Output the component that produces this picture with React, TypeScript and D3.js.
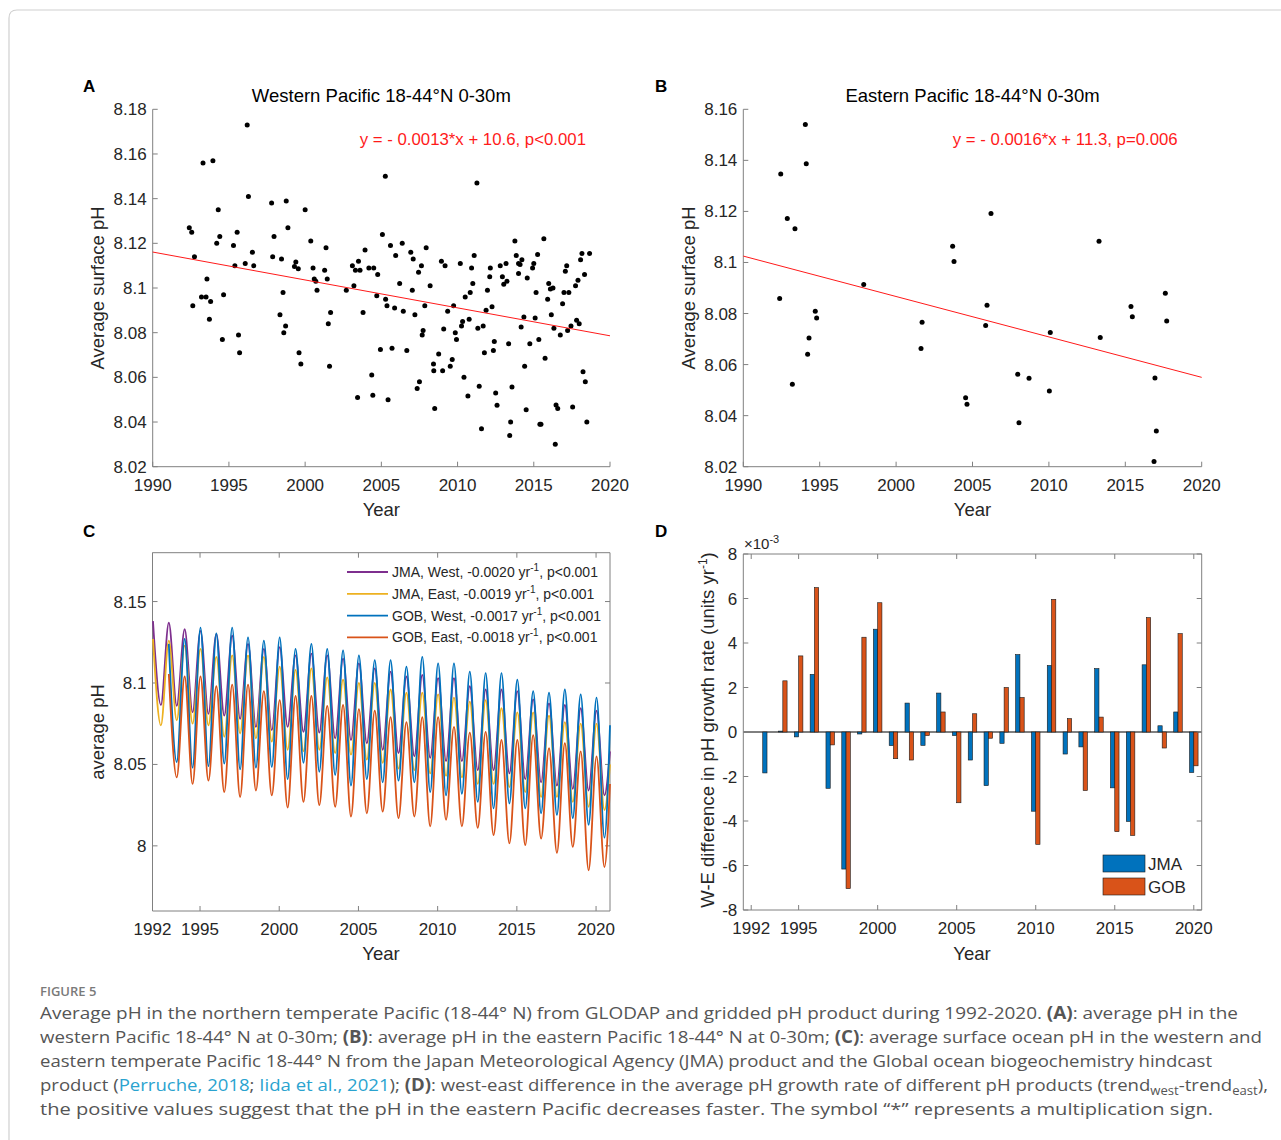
import React from 'react';
import * as d3 from 'd3';

const W = 1281;
const H = 1140;
const FONT = '"Liberation Sans", Arial, Helvetica, sans-serif';
const CAPTION_FONT = '"Open Sans", "Noto Sans", sans-serif';
const TEXT = '#262626';
const AXIS = '#808080';

// ---- Panel A: western Pacific GLODAP points (year, pH) ----
const westPoints: [number, number][] = [
  [1996.2, 8.173], [1993.3, 8.156], [1993.95, 8.157], [1996.28, 8.141], [1997.8, 8.138],
  [1998.76, 8.139], [1994.3, 8.135], [2000.0, 8.135], [1992.4, 8.127], [1992.56, 8.125],
  [1995.54, 8.125], [1998.87, 8.127], [1994.4, 8.123], [1994.2, 8.12], [1995.3, 8.119],
  [1997.96, 8.123], [2000.37, 8.121], [2001.37, 8.118], [1992.74, 8.114], [1996.54, 8.116],
  [1996.07, 8.111], [1995.39, 8.11], [1996.63, 8.11], [1997.87, 8.114], [1998.45, 8.113],
  [1999.39, 8.1116], [1999.3, 8.1096], [1999.55, 8.1086], [2000.52, 8.109], [2000.6, 8.104],
  [2000.7, 8.103], [2001.28, 8.108], [2001.45, 8.104], [2000.78, 8.099], [2002.7, 8.099],
  [2003.1, 8.11], [2003.3, 8.108], [2003.5, 8.112], [2003.6, 8.108], [2003.93, 8.117],
  [2004.18, 8.109], [2004.5, 8.109], [2004.76, 8.106], [2003.2, 8.101], [2004.7, 8.0965],
  [2005.07, 8.124], [1993.56, 8.104], [1993.2, 8.096], [1993.5, 8.096], [1993.8, 8.094],
  [1992.63, 8.092], [1994.65, 8.097], [1993.72, 8.086], [1998.55, 8.098], [1998.35, 8.088],
  [1998.72, 8.083], [1998.6, 8.08], [2001.67, 8.089], [2001.52, 8.084], [2003.8, 8.089],
  [1994.57, 8.077], [1995.63, 8.079], [1995.7, 8.071], [1999.6, 8.071], [1999.72, 8.066],
  [2001.6, 8.065], [2004.94, 8.0725], [2004.37, 8.061], [2003.44, 8.051], [2004.44, 8.052],
  [2005.26, 8.15], [2011.27, 8.147], [2005.6, 8.119], [2006.37, 8.12], [2005.94, 8.1145],
  [2006.93, 8.116], [2007.09, 8.113], [2007.94, 8.118], [2007.63, 8.11], [2007.44, 8.107],
  [2006.2, 8.102], [2007.03, 8.099], [2008.2, 8.101], [2005.28, 8.095], [2005.37, 8.092],
  [2005.87, 8.091], [2006.44, 8.0896], [2007.2, 8.088], [2007.85, 8.092], [2007.74, 8.081],
  [2007.68, 8.079], [2008.94, 8.112], [2009.18, 8.11], [2010.18, 8.111], [2011.09, 8.1145],
  [2010.92, 8.109], [2011.0, 8.102], [2010.83, 8.098], [2010.5, 8.096], [2009.74, 8.092],
  [2009.35, 8.0896], [2009.09, 8.0816], [2009.85, 8.08], [2009.93, 8.077], [2010.33, 8.085],
  [2010.26, 8.083], [2010.76, 8.086], [2011.33, 8.082], [2011.68, 8.083], [2011.87, 8.09],
  [2012.26, 8.0916], [2011.96, 8.099], [2012.11, 8.105], [2012.15, 8.109], [2012.8, 8.11],
  [2012.94, 8.105], [2013.03, 8.1017], [2013.24, 8.103], [2013.18, 8.111], [2013.76, 8.121],
  [2013.85, 8.1145], [2014.0, 8.111], [2014.1, 8.1105], [2014.22, 8.1126], [2014.0, 8.1065],
  [2014.57, 8.1045], [2014.92, 8.109], [2015.0, 8.111], [2015.25, 8.115], [2015.66, 8.122],
  [2015.15, 8.098], [2015.91, 8.095], [2015.98, 8.102], [2016.09, 8.0996], [2016.26, 8.1],
  [2016.15, 8.088], [2016.32, 8.082], [2016.74, 8.079], [2016.89, 8.093], [2016.98, 8.098],
  [2017.3, 8.098], [2017.07, 8.1075], [2017.16, 8.11], [2017.74, 8.101], [2017.9, 8.1035],
  [2018.07, 8.1126], [2018.16, 8.1154], [2018.66, 8.1154], [2018.33, 8.106], [2017.22, 8.081],
  [2017.44, 8.083], [2017.81, 8.0856], [2017.98, 8.084], [2013.35, 8.075], [2014.17, 8.0825],
  [2014.35, 8.087], [2015.09, 8.0866], [2014.74, 8.075], [2015.33, 8.077], [2015.74, 8.0685],
  [2014.4, 8.065], [2012.41, 8.076], [2012.35, 8.072], [2011.76, 8.071], [2011.42, 8.056],
  [2010.68, 8.0516], [2010.42, 8.06], [2011.57, 8.037], [2012.5, 8.053], [2012.59, 8.0475],
  [2013.57, 8.0557], [2013.48, 8.04], [2013.42, 8.034], [2014.5, 8.0455], [2015.4, 8.039],
  [2015.47, 8.039], [2016.41, 8.03], [2016.46, 8.0476], [2016.57, 8.046], [2017.55, 8.0467],
  [2018.23, 8.0625], [2018.38, 8.058], [2018.48, 8.04], [2008.5, 8.046], [2008.44, 8.063],
  [2008.42, 8.066], [2008.76, 8.0705], [2009.02, 8.063], [2009.52, 8.065], [2009.65, 8.068],
  [2005.7, 8.073], [2006.67, 8.072], [2005.44, 8.05], [2007.35, 8.055], [2007.5, 8.058],
];
const westFit: [number, number][] = [[1990, 8.1161], [2020, 8.0786]];

// ---- Panel B: eastern Pacific GLODAP points ----
const eastPoints: [number, number][] = [
  [1994.06, 8.154], [1994.12, 8.1387], [1992.45, 8.1347], [1992.88, 8.1172], [1993.38, 8.1132],
  [1992.38, 8.0859], [1994.71, 8.0809], [1994.8, 8.0782], [1994.3, 8.0704], [1994.21, 8.064],
  [1993.21, 8.0523], [1997.88, 8.0914], [2003.7, 8.1064], [2003.79, 8.1004], [2001.7, 8.0766],
  [2001.63, 8.0663], [2006.21, 8.1192], [2005.95, 8.0832], [2005.86, 8.0753], [2004.55, 8.047],
  [2004.64, 8.0445], [2007.96, 8.0562], [2008.7, 8.0546], [2008.04, 8.0372], [2010.09, 8.0726],
  [2010.03, 8.0497], [2013.28, 8.1083], [2013.36, 8.0706], [2015.37, 8.0828], [2015.46, 8.0787],
  [2017.62, 8.0879], [2017.71, 8.0771], [2016.94, 8.0547], [2017.03, 8.034], [2016.88, 8.022],
];
const eastFit: [number, number][] = [[1990, 8.1025], [2020, 8.055]];

// ---- Panel C: seasonal maxima (Jan) and minima (Jul) of gridded products ----
const cycleYears = [
  1992, 1993, 1994, 1995, 1996, 1997, 1998, 1999, 2000, 2001, 2002, 2003, 2004, 2005, 2006,
  2007, 2008, 2009, 2010, 2011, 2012, 2013, 2014, 2015, 2016, 2017, 2018, 2019, 2020,
];
const jmaWestPeak = [
  8.138, 8.137, 8.133, 8.132, 8.13, 8.129, 8.124, 8.121, 8.122, 8.117, 8.118, 8.117, 8.115, 8.112, 8.109,
  8.107, 8.104, 8.105, 8.103, 8.103, 8.098, 8.096, 8.096, 8.095, 8.09, 8.0875, 8.0865, 8.0845, 8.083,
];
const jmaWestTrough = [
  8.0865, 8.086, 8.082, 8.081, 8.08, 8.078, 8.073, 8.071, 8.073, 8.07, 8.0695, 8.066, 8.065, 8.063, 8.059,
  8.057, 8.055, 8.054, 8.052, 8.052, 8.0465, 8.0465, 8.0445, 8.041, 8.039, 8.037, 8.035, 8.034, 8.031,
];
const jmaEastPeak = [
  8.127, 8.126, 8.123, 8.121, 8.116, 8.117, 8.117, 8.116, 8.11, 8.108, 8.109, 8.1035, 8.102, 8.1, 8.1,
  8.096, 8.094, 8.094, 8.093, 8.091, 8.0885, 8.0895, 8.0845, 8.082, 8.082, 8.08, 8.076, 8.075, 8.075,
];
const jmaEastTrough = [
  8.074, 8.077, 8.075, 8.074, 8.067, 8.069, 8.066, 8.064, 8.059, 8.058, 8.059, 8.057, 8.056, 8.053, 8.051,
  8.0475, 8.0465, 8.0445, 8.043, 8.042, 8.038, 8.038, 8.036, 8.033, 8.03, 8.03, 8.027, 8.024, 8.022,
];
const gobWestPeak = [
  null, 8.124, 8.127, 8.134, 8.1305, 8.134, 8.128, 8.126, 8.128, 8.121, 8.124, 8.121, 8.12, 8.117, 8.114,
  8.114, 8.11, 8.116, 8.112, 8.112, 8.107, 8.106, 8.106, 8.102, 8.095, 8.094, 8.096, 8.093, 8.091,
];
const gobWestTrough = [
  null, 8.0515, 8.048, 8.049, 8.0505, 8.047, 8.048, 8.0485, 8.041, 8.051, 8.0455, 8.0435, 8.037, 8.041, 8.039,
  8.04, 8.039, 8.033, 8.031, 8.032, 8.027, 8.023, 8.026, 8.023, 8.02, 8.019, 8.017, 8.013, 8.005,
];
const gobEastPeak = [
  null, 8.1055, 8.104, 8.104, 8.098, 8.099, 8.099, 8.095, 8.0895, 8.092, 8.092, 8.086, 8.0865, 8.084, 8.083,
  8.079, 8.076, 8.079, 8.079, 8.073, 8.0695, 8.07, 8.065, 8.065, 8.068, 8.06, 8.063, 8.058, 8.055,
];
const gobEastTrough = [
  null, 8.042, 8.038, 8.04, 8.033, 8.03, 8.034, 8.031, 8.0235, 8.027, 8.025, 8.024, 8.018, 8.02, 8.021,
  8.017, 8.018, 8.012, 8.016, 8.012, 8.011, 8.0066, 8.0015, 8.0004, 8.0045, 7.9957, 7.9994, 7.985, 7.987,
];
// last monthly value (Nov 2020)
const seriesEnd = { jmaWest: 8.058, jmaEast: 8.05, gobWest: 8.074, gobEast: 8.038 };
const PEAK_PHASE = 0.03;
const TROUGH_PHASE = 0.53;
const C_END = 2020.88;

const seriesC = [
  { key: 'jmaWest', color: '#7E2F8E', peak: jmaWestPeak, trough: jmaWestTrough, label: 'JMA, West, -0.0020 yr' },
  { key: 'jmaEast', color: '#EDB120', peak: jmaEastPeak, trough: jmaEastTrough, label: 'JMA, East, -0.0019 yr' },
  { key: 'gobWest', color: '#0072BD', peak: gobWestPeak, trough: gobWestTrough, label: 'GOB, West, -0.0017 yr' },
  { key: 'gobEast', color: '#D95319', peak: gobEastPeak, trough: gobEastTrough, label: 'GOB, East, -0.0018 yr' },
];

// ---- Panel D: west-east difference in trend (x1e-3) ----
const barYears = [
  1993, 1994, 1995, 1996, 1997, 1998, 1999, 2000, 2001, 2002, 2003, 2004, 2005, 2006,
  2007, 2008, 2009, 2010, 2011, 2012, 2013, 2014, 2015, 2016, 2017, 2018, 2019, 2020,
];
const jmaDiff = [
  -1.84, 0.04, -0.22, 2.59, -2.53, -6.16, -0.09, 4.62, -0.61, 1.3, -0.6, 1.75, -0.16, -1.26,
  -2.41, -0.51, 3.48, -3.56, 2.99, -0.99, -0.67, 2.85, -2.51, -4.02, 3.02, 0.28, 0.9, -1.82,
];
const gobDiff = [
  0, 2.3, 3.42, 6.49, -0.58, -7.04, 4.26, 5.81, -1.2, -1.26, -0.16, 0.9, -3.18, 0.82,
  -0.28, 2.0, 1.55, -5.05, 5.96, 0.6, -2.63, 0.67, -4.48, -4.65, 5.14, -0.72, 4.42, -1.52,
];

const ticksAB_x = [1990, 1995, 2000, 2005, 2010, 2015, 2020];
const ticksA_y = [8.02, 8.04, 8.06, 8.08, 8.1, 8.12, 8.14, 8.16, 8.18];
const ticksB_y = [8.02, 8.04, 8.06, 8.08, 8.1, 8.12, 8.14, 8.16];
const ticksCD_x = [1992, 1995, 2000, 2005, 2010, 2015, 2020];
const ticksC_y = [8, 8.05, 8.1, 8.15];
const ticksD_y = [-8, -6, -4, -2, 0, 2, 4, 6, 8];

type Lin = d3.ScaleLinear<number, number>;

function Axes({ x, y, xTicks, yTicks, yFmt, box }: {
  x: Lin; y: Lin; xTicks: number[]; yTicks: number[]; yFmt: (v: number) => string; box: boolean;
}) {
  const [x0, x1] = x.range();
  const [y0, y1] = y.range();
  const tl = 5;
  return (
    <g fontFamily={FONT} fontSize={17} fill={TEXT}>
      <line x1={x0} x2={x0} y1={y0} y2={y1} stroke={AXIS} />
      <line x1={x0} x2={x1} y1={y0} y2={y0} stroke={AXIS} />
      {box && <line x1={x1} x2={x1} y1={y0} y2={y1} stroke={AXIS} />}
      {box && <line x1={x0} x2={x1} y1={y1} y2={y1} stroke={AXIS} />}
      {xTicks.map((t) => (
        <g key={`x${t}`}>
          <line x1={x(t)} x2={x(t)} y1={y0} y2={y0 - tl} stroke={AXIS} />
          {box && <line x1={x(t)} x2={x(t)} y1={y1} y2={y1 + tl} stroke={AXIS} />}
          <text x={x(t)} y={y0 + 24} textAnchor="middle">{t}</text>
        </g>
      ))}
      {yTicks.map((t) => (
        <g key={`y${t}`}>
          <line x1={x0} x2={x0 + tl} y1={y(t)} y2={y(t)} stroke={AXIS} />
          {box && <line x1={x1} x2={x1 - tl} y1={y(t)} y2={y(t)} stroke={AXIS} />}
          <text x={x0 - 6} y={y(t) + 6} textAnchor="end">{yFmt(t)}</text>
        </g>
      ))}
    </g>
  );
}

function ScatterPanel({ points, fit, x, y, yTicks, title, eq, letter, lx, ylabelX }: any) {
  const [x0, x1] = x.range();
  const y0 = y.range()[0];
  const line = d3.line<[number, number]>().x((d) => x(d[0])).y((d) => y(d[1]));
  return (
    <g>
      <text x={lx} y={92} fontFamily={FONT} fontSize={17} fontWeight="bold" fill="#000">{letter}</text>
      <text x={(x0 + x1) / 2} y={102} textAnchor="middle" fontFamily={FONT} fontSize={18.5} fill="#000">{title}</text>
      <Axes x={x} y={y} xTicks={ticksAB_x} yTicks={yTicks} yFmt={(v) => String(+v.toFixed(2))} box={false} />
      {points.map((p: [number, number], i: number) => (
        <circle key={i} cx={x(p[0])} cy={y(p[1])} r={2.5} fill="#000" />
      ))}
      <path d={line(fit) ?? ''} stroke="#ff1a1a" strokeWidth={1} fill="none" />
      <text x={x1 - 24} y={145} textAnchor="end" fontFamily={FONT} fontSize={16.8} fill="#ff1a1a">{eq}</text>
      <text x={(x0 + x1) / 2} y={y0 + 49} textAnchor="middle" fontFamily={FONT} fontSize={18.5} fill={TEXT}>Year</text>
      <text transform={`translate(${ylabelX},${288}) rotate(-90)`} textAnchor="middle" fontFamily={FONT} fontSize={18.5} fill={TEXT}>
        Average surface pH
      </text>
    </g>
  );
}

function cyclePoints(peak: (number | null)[], trough: (number | null)[], end: number) {
  const pts: [number, number][] = [];
  cycleYears.forEach((yr, i) => {
    const p = peak[i];
    const t = trough[i];
    if (p != null) pts.push([yr + PEAK_PHASE, p]);
    if (t != null) pts.push([yr + TROUGH_PHASE, t]);
  });
  pts.push([C_END, end]);
  return pts;
}

export default function App() {
  const xA = d3.scaleLinear().domain([1990, 2020]).range([152.7, 610]);
  const yA = d3.scaleLinear().domain([8.02, 8.18]).range([466.7, 109.3]);
  const xB = d3.scaleLinear().domain([1990, 2020]).range([743.3, 1201.7]);
  const yB = d3.scaleLinear().domain([8.02, 8.16]).range([466.7, 109.3]);
  const xC = d3.scaleLinear().domain([1992, C_END]).range([152.5, 610]);
  const yC = d3.scaleLinear().domain([7.96, 8.18]).range([911, 552.7]);
  const xD = d3.scaleLinear().domain([1991.5, 2020.5]).range([743.3, 1201.7]);
  const yD = d3.scaleLinear().domain([-8, 8]).range([910, 554]);

  const lineC = d3.line<[number, number]>().x((d) => xC(d[0])).y((d) => yC(d[1])).curve(d3.curveMonotoneX);
  const barW = xD(1991.5 + 0.27) - xD(1991.5);

  const capStyle = { fontFamily: CAPTION_FONT, fontSize: 17, fill: '#555' };
  const link = '#2aa3cf';

  return (
    <svg width={W} height={H} style={{ position: 'absolute', left: 0, top: 0, background: '#fff' }}>
      <rect width={W} height={H} fill="#fff" />
      <path d={`M9,${H} V18 Q9,10 17,10 H${W}`} fill="none" stroke="#d0d0d0" strokeWidth={1.2} />

      <ScatterPanel points={westPoints} fit={westFit} x={xA} y={yA} yTicks={ticksA_y}
        title="Western Pacific 18-44°N 0-30m" eq="y = - 0.0013*x + 10.6, p<0.001" letter="A" lx={83} ylabelX={104} />
      <ScatterPanel points={eastPoints} fit={eastFit} x={xB} y={yB} yTicks={ticksB_y}
        title="Eastern Pacific 18-44°N 0-30m" eq="y = - 0.0016*x + 11.3, p=0.006" letter="B" lx={655} ylabelX={695} />

      {/* Panel C */}
      <text x={83} y={537} fontFamily={FONT} fontSize={17} fontWeight="bold">C</text>
      <Axes x={xC} y={yC} xTicks={ticksCD_x} yTicks={ticksC_y} yFmt={(v) => String(+v.toFixed(2))} box />
      {seriesC.map((s) => (
        <path key={s.key} d={lineC(cyclePoints(s.peak, s.trough, (seriesEnd as any)[s.key])) ?? ''}
          fill="none" stroke={s.color} strokeWidth={1.8} strokeLinejoin="round" />
      ))}
      <g fontFamily={FONT} fontSize={14} fill={TEXT}>
        {seriesC.map((s, i) => (
          <g key={s.key} transform={`translate(0,${572 + i * 21.8})`}>
            <line x1={347} x2={388} y1={0} y2={0} stroke={s.color} strokeWidth={1.8} />
            <text x={392} y={5}>
              {s.label}
              <tspan dy={-6} fontSize={10}>-1</tspan>
              <tspan dy={6}>, p&lt;0.001</tspan>
            </text>
          </g>
        ))}
      </g>
      <text x={381} y={960} textAnchor="middle" fontFamily={FONT} fontSize={18.5} fill={TEXT}>Year</text>
      <text transform="translate(104,732) rotate(-90)" textAnchor="middle" fontFamily={FONT} fontSize={18.5} fill={TEXT}>average pH</text>

      {/* Panel D */}
      <text x={655} y={537} fontFamily={FONT} fontSize={17} fontWeight="bold">D</text>
      <line x1={xD.range()[0]} x2={xD.range()[1]} y1={yD(0)} y2={yD(0)} stroke="#000" strokeWidth={1} />
      {barYears.map((yr, i) => (
        <g key={yr}>
          <rect x={xD(yr) - barW} width={barW} y={Math.min(yD(jmaDiff[i]), yD(0))}
            height={Math.abs(yD(jmaDiff[i]) - yD(0))} fill="#0072BD" stroke="#1a1a1a" strokeWidth={0.6} />
          <rect x={xD(yr)} width={barW} y={Math.min(yD(gobDiff[i]), yD(0))}
            height={Math.abs(yD(gobDiff[i]) - yD(0))} fill="#D95319" stroke="#1a1a1a" strokeWidth={0.6} />
        </g>
      ))}
      <Axes x={xD} y={yD} xTicks={ticksCD_x} yTicks={ticksD_y} yFmt={(v) => String(v)} box />
      <text x={744} y={549} fontFamily={FONT} fontSize={15} fill={TEXT}>
        ×10<tspan dy={-6} fontSize={11}>-3</tspan>
      </text>
      <g fontFamily={FONT} fontSize={17} fill={TEXT}>
        <rect x={1103} y={855} width={42} height={17} fill="#0072BD" stroke="#1a1a1a" strokeWidth={0.6} />
        <text x={1148} y={870}>JMA</text>
        <rect x={1103} y={878} width={42} height={17} fill="#D95319" stroke="#1a1a1a" strokeWidth={0.6} />
        <text x={1148} y={893}>GOB</text>
      </g>
      <text x={972} y={960} textAnchor="middle" fontFamily={FONT} fontSize={18.5} fill={TEXT}>Year</text>
      <text transform="translate(714,730) rotate(-90)" textAnchor="middle" fontFamily={FONT} fontSize={18.5} fill={TEXT}>
        W-E difference in pH growth rate (units yr<tspan dy={-7} fontSize={12}>-1</tspan><tspan dy={7}>)</tspan>
      </text>

      {/* Caption */}
      <text x={40} y={996} fontFamily={CAPTION_FONT} fontSize={13} fontWeight={600} fill="#7a7a7a">FIGURE 5</text>
      <text x={40} y={1019} {...capStyle} textLength={1198} lengthAdjust="spacingAndGlyphs">
        Average pH in the northern temperate Pacific (18-44° N) from GLODAP and gridded pH product during 1992-2020. <tspan fontWeight="bold">(A)</tspan>: average pH in the
      </text>
      <text x={40} y={1043} {...capStyle} textLength={1222} lengthAdjust="spacingAndGlyphs">
        western Pacific 18-44° N at 0-30m; <tspan fontWeight="bold">(B)</tspan>: average pH in the eastern Pacific 18-44° N at 0-30m; <tspan fontWeight="bold">(C)</tspan>: average surface ocean pH in the western and
      </text>
      <text x={40} y={1067} {...capStyle} textLength={1172} lengthAdjust="spacingAndGlyphs">
        eastern temperate Pacific 18-44° N from the Japan Meteorological Agency (JMA) product and the Global ocean biogeochemistry hindcast
      </text>
      <text x={40} y={1091} {...capStyle} textLength={1228} lengthAdjust="spacingAndGlyphs">
        product (<tspan fill={link}>Perruche, 2018</tspan>; <tspan fill={link}>Iida et al., 2021</tspan>); <tspan fontWeight="bold">(D)</tspan>: west-east difference in the average pH growth rate of different pH products (trend<tspan dy={4} fontSize={12}>west</tspan><tspan dy={-4}>-trend</tspan><tspan dy={4} fontSize={12}>east</tspan><tspan dy={-4}>),</tspan>
      </text>
      <text x={40} y={1115} {...capStyle} textLength={1173} lengthAdjust="spacingAndGlyphs">
        the positive values suggest that the pH in the eastern Pacific decreases faster. The symbol “*” represents a multiplication sign.
      </text>
    </svg>
  );
}
